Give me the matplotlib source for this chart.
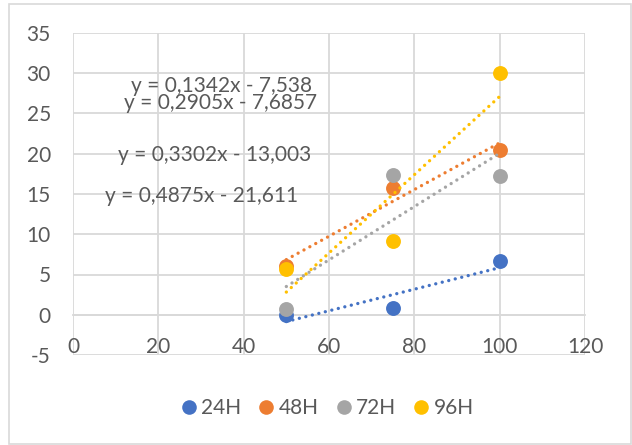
import numpy as np
import matplotlib
matplotlib.use("Agg")
import matplotlib.pyplot as plt
from matplotlib.lines import Line2D
from matplotlib.patches import Rectangle

plt.rcParams['font.family'] = ['Lato', 'DejaVu Sans']
plt.rcParams['axes.unicode_minus'] = False

# data
x_vals = [50, 75, 100]
series_names = ['24H', '48H', '72H', '96H']
y_24h = [0.0, 0.8, 6.7]
y_48h = [6.0, 15.8, 20.5]
y_72h = [0.7, 17.4, 17.25]
y_96h = [5.7, 9.2, 30.0]
equations = [
    'y = 0,1342x - 7,538',
    'y = 0,2905x - 7,6857',
    'y = 0,3302x - 13,003',
    'y = 0,4875x - 21,611',
]
eq_pos = [(34.9, 28.45), (34.5, 26.25), (33.3, 19.9), (30.2, 14.7)]
colors = ['#4472C4', '#ED7D31', '#A5A5A5', '#FFC000']
text_color = '#595959'
grid_color = '#D9D9D9'
fs = 15

fig = plt.figure(figsize=(6.32, 4.45), dpi=100)
ax = fig.add_axes([73 / 632, 1 - 355 / 445, 512 / 632, 322 / 445])

# chart area border
fig.patches.append(Rectangle((9 / 632, 1 / 445), 622 / 632, 440 / 445,
                             transform=fig.transFigure, fill=False,
                             edgecolor=grid_color, linewidth=1.2))

all_y = [y_24h, y_48h, y_72h, y_96h]
x = np.array(x_vals, dtype=float)
for name, ys, c in zip(series_names, all_y, colors):
    ax.scatter(x, ys, s=115, color=c, zorder=3, linewidths=0)
for ys, c in zip(all_y, colors):
    k, b = np.polyfit(x, ys, 1)
    xx = np.array([x.min(), x.max()])
    ax.plot(xx, k * xx + b, color=c, linestyle=(0, (0.01, 2.0)),
            linewidth=2.4, dash_capstyle='round', zorder=4)

for txt, (tx, ty) in zip(equations, eq_pos):
    ax.text(tx, ty, txt, ha='center', va='center', fontsize=fs,
            color=text_color, zorder=5)

ax.set_xlim(0, 120)
ax.set_ylim(-5, 35)
ax.set_xticks(np.arange(0, 121, 20))
ax.set_yticks(np.arange(-5, 36, 5))
ax.grid(True, color=grid_color, linewidth=1.3, zorder=0)
ax.set_axisbelow(True)
for s in ['top', 'right', 'left']:
    ax.spines[s].set_visible(False)
ax.spines['bottom'].set_position(('data', 0))
ax.spines['bottom'].set_color(grid_color)
ax.spines['bottom'].set_linewidth(1.3)
ax.tick_params(axis='x', length=0, pad=16, labelsize=fs, colors=text_color)
ax.tick_params(axis='y', length=0, pad=16, labelsize=fs, colors=text_color)

handles = [Line2D([], [], marker='o', linestyle='', markersize=10.5,
                  markerfacecolor=c, markeredgewidth=0, label=n)
           for n, c in zip(series_names, colors)]
fig.legend(handles=handles, loc='center', bbox_to_anchor=(326 / 632, 1 - 408 / 445),
           ncol=4, frameon=False, fontsize=fs, labelcolor=text_color,
           handletextpad=0.1, columnspacing=0.7, handlelength=1.0)

fig.savefig('out.png', dpi=100)
